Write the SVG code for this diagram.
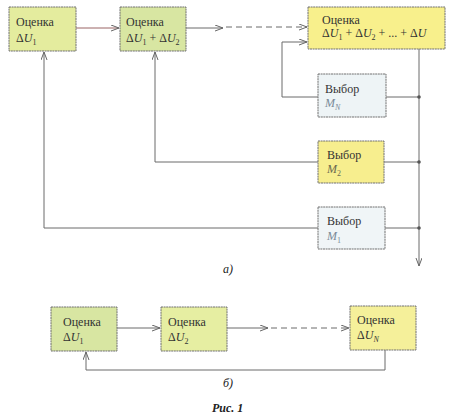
<svg xmlns="http://www.w3.org/2000/svg" width="450" height="418" viewBox="0 0 450 418">
<style>
.box{stroke:#707070;stroke-width:1;stroke-dasharray:2 0.6}
.t{font-family:"Liberation Serif","DejaVu Serif",serif;font-size:12px;fill:#333}
.i{font-style:italic}
.s{font-size:8px}
.m{fill:#7a8a98}
.ln{fill:none;stroke:#6a6a6a;stroke-width:1}
.ds{stroke-dasharray:6 4}
.cap{font-family:"Liberation Serif","DejaVu Serif",serif;font-size:12px;font-style:italic;fill:#222}
</style>
<defs>
<marker id="ar" markerWidth="10" markerHeight="8" refX="8" refY="3" orient="auto" markerUnits="userSpaceOnUse">
<path d="M0,0 L8,3 L0,6" fill="none" stroke="#666" stroke-width="1"/>
</marker>
</defs>
<rect width="450" height="418" fill="#fff"/>
<g id="connectors">
<path class="ln" d="M76,28 H119" stroke="#a06060" style="stroke:#9a6464" marker-end="url(#ar)"/>
<path class="ln" d="M186,28 H223" marker-end="url(#ar)"/>
<path class="ln ds" d="M226,27 H307" marker-end="url(#ar)"/>
<path class="ln" d="M318,97 H282 V42 H307" marker-end="url(#ar)"/>
<path class="ln" d="M318,162 H155 V52" marker-end="url(#ar)"/>
<path class="ln" d="M318,228 H44 V52" marker-end="url(#ar)"/>
<path class="ln" d="M419,49 V266" marker-end="url(#ar)"/>
<path class="ln" d="M386,97 H419 M384,162 H419 M385,228 H419"/>
<circle cx="419" cy="97" r="1.8" fill="#555"/>
<circle cx="419" cy="162" r="1.8" fill="#555"/>
<circle cx="419" cy="228" r="1.8" fill="#555"/>
<path class="ln" d="M117,328 H160" marker-end="url(#ar)"/>
<path class="ln" d="M227,328 H268" marker-end="url(#ar)"/>
<path class="ln ds" d="M271,328 H349" marker-end="url(#ar)"/>
<path class="ln" d="M385,350 V370 H86 V352" marker-end="url(#ar)"/>
</g>
<g id="n1">
<rect class="box" x="9" y="7" width="67" height="44" fill="#e4ec9e"/>
<text class="t" x="16" y="26">Оценка</text>
<text class="t" x="16" y="42">Δ<tspan class="i">U</tspan><tspan class="s" dy="3">1</tspan></text>
</g>
<g id="n2">
<rect class="box" x="120" y="7" width="66" height="44" fill="#d8e6a2"/>
<text class="t" x="126" y="26">Оценка</text>
<text class="t" x="126" y="42">Δ<tspan class="i">U</tspan><tspan class="s" dy="3">1</tspan><tspan dy="-3"> + Δ</tspan><tspan class="i">U</tspan><tspan class="s" dy="3">2</tspan></text>
</g>
<g id="n3">
<rect class="box" x="308" y="7" width="137" height="42" fill="#f8f08c"/>
<text class="t" x="322" y="24">Оценка</text>
<text class="t" x="322" y="37">Δ<tspan class="i">U</tspan><tspan class="s" dy="3">1</tspan><tspan dy="-3"> + Δ</tspan><tspan class="i">U</tspan><tspan class="s" dy="3">2</tspan><tspan dy="-3"> + ... + Δ</tspan><tspan class="i">U</tspan></text>
</g>
<g id="nMN">
<rect class="box" x="318" y="74" width="68" height="43" fill="#eef4f6"/>
<text class="t" x="325" y="93">Выбор</text>
<text class="t m i" x="325" y="107">M<tspan class="s" dy="3" font-style="italic">N</tspan></text>
</g>
<g id="nM2">
<rect class="box" x="318" y="141" width="66" height="42" fill="#f7ee8e"/>
<text class="t" x="327" y="159">Выбор</text>
<text class="t i" x="327" y="173" style="fill:#6a6a50">M<tspan class="s" dy="3" font-style="normal">2</tspan></text>
</g>
<g id="nM1">
<rect class="box" x="318" y="207" width="67" height="42" fill="#f0f5f7"/>
<text class="t" x="327" y="225">Выбор</text>
<text class="t m i" x="327" y="240">M<tspan class="s" dy="3" font-style="normal">1</tspan></text>
</g>
<text class="cap" x="223" y="273">а)</text>
<g id="b1">
<rect class="box" x="51" y="307" width="66" height="44" fill="#d8e6a2"/>
<text class="t" x="63" y="326">Оценка</text>
<text class="t" x="63" y="341">Δ<tspan class="i">U</tspan><tspan class="s" dy="3">1</tspan></text>
</g>
<g id="b2">
<rect class="box" x="161" y="307" width="66" height="44" fill="#e6eea2"/>
<text class="t" x="168" y="326">Оценка</text>
<text class="t" x="168" y="341">Δ<tspan class="i">U</tspan><tspan class="s" dy="3">2</tspan></text>
</g>
<g id="bN">
<rect class="box" x="350" y="306" width="66" height="44" fill="#f5f09a"/>
<text class="t" x="357" y="324">Оценка</text>
<text class="t" x="357" y="339">Δ<tspan class="i">U</tspan><tspan class="s i" dy="3">N</tspan></text>
</g>
<text class="cap" x="223" y="387">б)</text>
<text class="cap" x="212" y="412" style="font-weight:bold">Рис. 1</text>
</svg>
